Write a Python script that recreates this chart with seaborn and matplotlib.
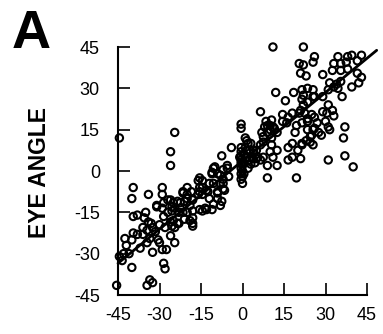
import matplotlib
matplotlib.use("Agg")
import matplotlib.pyplot as plt
import seaborn as sns
import pandas as pd

# Data (x = stimulus angle, y = eye angle, degrees)
x_vals = [
    11, 22, 26, 25.5, 20.5, 22, 21, 23, 29,
    34.5, 38, 39.5, 43, 33, 35.5, 37.5, 41.5,
    32.5, 35.5, 38, 41.5, 43, 42, 39.5, 36,
    31.5, 33, 34, 31, 34.5, 35.5,
    29, 31, 32.5, 30.5, 33,
    31.5, 37, 36.5, 31, 37, 40,
    25.5, 26, 23.5, 21.5, 22, 21.5, 18.5, 23.5, 22, 25.5,
    12, 15.5, 6.5,
    21, 22.5, 23.5, 26, 27, 30, 31, 25.5, 24.5, 23, 21.5, 25.5,
    19, 16.5, 16.5, 21, 12.5, 9, 19.5,
    14.5, 16.5, 18, 20.5, 25, 29, 21.5,
    8.5, 10, 10.5, 8, 11,
    14.5, 16, 19.5, 23.5, 26, 23.5, 27.5, 28.5, 25, 24.5, 21.5, 18, 20, 18,
    -0.5, -0.5, 1, 2, 2.5, 1.5, 3.5, 5.5, 7.5, 7, 10.5, 10, 12.5, 11, 6.5, 9,
    9, 11, 10, 11.5, 9, 12.5, 7.5, 10.5, 6.5, 5, 4, 3, 1.5, 1, 3.5, 5, 7.5,
    -4, -7.5, -10,
    -0.5, -0.5, -0.5, -0.5, -0.5, 0, -0.5, 0, -0.5, 0, -0.5, 0, 0.5, 0.5, 0.5, -1,
    1.5, 2.5, 4, 4.5, 2, 3,
    -10.5, -9, -11, -5.5, -5, -7, -8, -10.5, -7, -9, -12.5, -14.5, -15.5, -14.5,
    -16, -12, -9, -7.5, -10.5, -8, -11, -13, -14.5, -18, -18, -19, -21, -21.5,
    -22.5, -21, -20, -21.5, -23.5, -24.5, -25.5, -25, -23, -18,
    -13.5, -13, -12, -11, -9, -8, -7, -5.5, -7, -6.5,
    -20, -18.5, -18, -19, -20, -18, -15.5, -15.5, -14.5, -16, -15.5, -23, -22.5,
    -20, -21.5,
    -24.5, -26, -26, -29,
    -39.5, -40, -34, -29, -28.5, -31, -27, -25, -44.5,
    -45.5, -33.5, -34.5, -32.5, -28.5, -28, -40, -44.5, -43, -43.5, -42.5, -40,
    -38, -39.5,
    -38, -39.5, -35, -34, -32.5, -34.5, -31.5, -33.5, -30.5, -32.5, -29, -27.5,
    -30, -24.5, -26,
    -31, -29, -26, -25.5, -27, -28.5, -26, -23.5, -24.5, -25.5, -28,
    -36, -35.5, -33, -30, -36, -34.5, -42, -41, -37,
]
y_vals = [
    45, 45, 41.5, 39.5, 39, 38.5, 35.5, 34.5, 35,
    41.5, 41.5, 42, 42, 39, 39, 39.5, 40,
    36.5, 36.5, 37, 35.5, 34, 32, 30.5, 27,
    32, 30.5, 31.5, 29.5, 30, 32.5,
    27, 24, 22, 21, 20,
    15, 16, 12, 4, 5.5, 1.5,
    29.5, 27, 30, 29.5, 27.5, 26, 28.5, 25, 24, 27,
    28.5, 25.5, 21.5,
    22, 21, 19, 19.5, 17.5, 18, 16, 15, 12.5, 11, 9.5, 9.5,
    14, 8.5, 4, 4.5, 2, -2.5, -2.5,
    20.5, 19.5, 21, 21, 20.5, 21.5, 17.5,
    18, 16.5, 18.5, 16, 16,
    18, 17.5, 16.5, 18, 15.5, 15, 14, 13, 13, 10.5, 10, 10, 7.5, 5,
    17, 15.5, 12, 10, 7.5, 5, 4.5, 5, 10.5, 14, 9.5, 7, 7.5, 5, 4, 2,
    16.5, 16, 15, 15.5, 14, 14, 12.5, 12, 9.5, 7.5, 7.5, 10, 11, 8.5, 5, 4.5, 5,
    8.5, 5.5, 1.5,
    8.5, 7, 5.5, 4, 3, 2, 1, 0, -1, -2, -3, -4.5, 6, 3, -1, 5,
    7.5, 4, 6.5, 3, 1, 2.5,
    1, -1, -1, 1, -2, -3, -4.5, -4.5, -6.5, -7.5, -7.5, -3.5, -6, -8.5,
    -8.5, -10, -10, -11, -12, -12.5, -14, -14, -14.5, -14.5, -17, -18, -17.5, -15,
    -13.5, -11, -8.5, -7.5, -11, -13.5, -14.5, -18, -19, -20,
    -13.5, -7, -4.5, -0.5, -8, -1.5, 0.5, 2, -4.5, -7,
    -6, -7.5, -10.5, -12.5, -15, -19, -14, -7.5, -6, -3.5, -2.5, -15, -11.5,
    -10, -8,
    14, 7, 2, -6,
    -6, -10, -8.5, -8.5, -11.5, -12.5, -10.5, -11.5, 12,
    -41.5, -39.5, -41.5, -40.5, -33.5, -35.5, -35, -31, -30, -32.5, -24.5, -25,
    -23, -22.5,
    -16, -16.5, -15, -18.5, -20.5, -21.5, -22, -24.5, -25, -29.5, -28.5, -28.5,
    -26, -26, -23.5,
    -13, -13.5, -10.5, -13, -15, -16.5, -18.5, -19, -20.5, -20, -20.5,
    -20.5, -17, -19, -19.5, -23, -26, -27, -30, -28,
]

# Regression line endpoints
line_x = [-45, 48.5]
line_y = [-33.5, 43.8]

ticks = [-45, -30, -15, 0, 15, 30, 45]

sns.set_style("ticks")
plt.rcParams["font.family"] = ["Liberation Sans", "DejaVu Sans"]
plt.rcParams["text.color"] = "black"
plt.rcParams["axes.labelcolor"] = "black"
plt.rcParams["xtick.color"] = "black"
plt.rcParams["ytick.color"] = "black"

df = pd.DataFrame({"x": x_vals, "y": y_vals})

fig = plt.figure(figsize=(3.83, 3.34), dpi=100)
ax = fig.add_axes([118 / 383, 1 - 295 / 334, 249 / 383, 248 / 334])

sns.scatterplot(data=df, x="x", y="y", ax=ax, marker="o", s=28,
                facecolor="none", edgecolor="black", linewidth=1.5,
                clip_on=False, zorder=3)
ax.plot(line_x, line_y, color="black", linewidth=2.0, clip_on=False, zorder=4)

ax.set_xlim(-45, 45)
ax.set_ylim(-45, 45)
ax.set_xticks(ticks)
ax.set_yticks(ticks)
ax.set_xticklabels([str(t) for t in ticks])
ax.set_yticklabels([str(t) for t in ticks])
ax.set_xlabel("")
ax.set_ylabel("")

for side in ["top", "right"]:
    ax.spines[side].set_visible(False)
for side in ["left", "bottom"]:
    ax.spines[side].set_linewidth(1.5)
    ax.spines[side].set_color("black")

ax.tick_params(axis="both", direction="in", length=8.5, width=1.2,
               colors="black", labelsize=13, labelcolor="black")
ax.tick_params(axis="y", pad=13)
ax.tick_params(axis="x", pad=9)

fig.text(12 / 383, 1 - 48 / 334, "A", fontsize=39, fontweight="bold",
         color="black", ha="left", va="baseline")
fig.text(39 / 383, 1 - 173 / 334, "EYE ANGLE", fontsize=16.5, fontweight="bold",
         color="black", rotation=90, ha="center", va="center")

fig.savefig("out.png", dpi=100)
